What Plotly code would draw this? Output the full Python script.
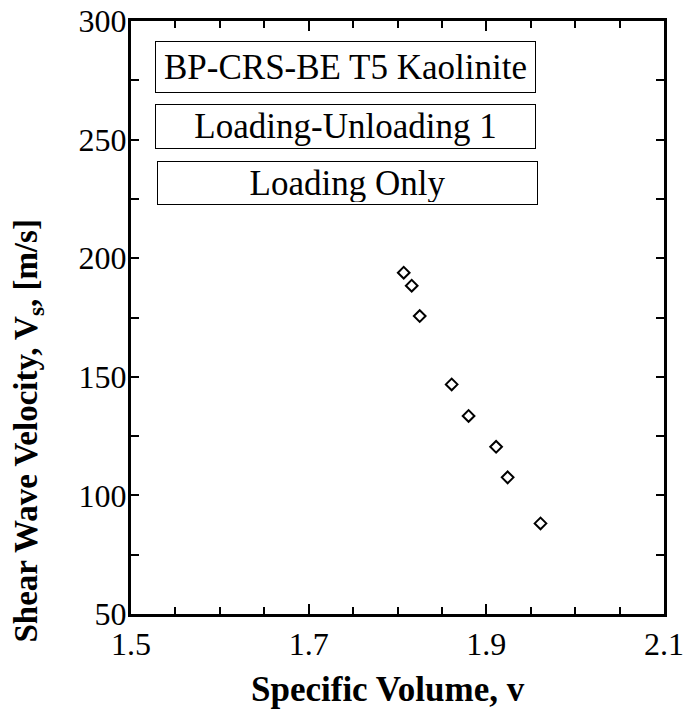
import plotly.graph_objects as go

specific_volume = [1.807, 1.816, 1.825, 1.861, 1.880, 1.911, 1.924, 1.961]
shear_velocity = [193.9, 188.4, 175.6, 146.8, 133.5, 120.5, 107.6, 88.2]
box_labels = ["BP-CRS-BE T5 Kaolinite", "Loading-Unloading 1", "Loading Only"]
x_ticks = [1.5, 1.7, 1.9, 2.1]
y_ticks = [50, 100, 150, 200, 250, 300]
x_title = "<b>Specific Volume, v</b>"
y_title = "<b>Shear Wave Velocity, V<sub>s</sub>, [m/s]</b>"

FONT = "Liberation Serif, Times New Roman, serif"

fig = go.Figure()
fig.add_trace(go.Scatter(
    x=specific_volume, y=shear_velocity, mode="markers",
    marker=dict(symbol="diamond-open", size=9, color="black", line=dict(width=2, color="black")),
    showlegend=False,
))

axis_common = dict(
    showline=True, linewidth=3, linecolor="black", mirror="ticks",
    ticks="inside", tickwidth=2, tickcolor="black", showgrid=False, zeroline=False,
    tickfont=dict(family=FONT, size=32, color="black"), automargin=False,
    ticklabeloverflow="allow",
)

fig.update_xaxes(
    range=[1.5, 2.1], tickvals=x_ticks, ticktext=[f"{v:.1f}" for v in x_ticks], ticklen=10,
    minor=dict(dtick=0.05, ticks="inside", ticklen=7, tickwidth=2, tickcolor="black", showgrid=False),
    **axis_common,
)
fig.update_yaxes(
    range=[50, 300], tickvals=y_ticks, ticktext=[str(v) for v in y_ticks], ticklen=8,
    ticklabelstandoff=-5,
    minor=dict(dtick=25, ticks="inside", ticklen=8, tickwidth=2, tickcolor="black", showgrid=False),
    **axis_common,
)

# axis titles
fig.add_annotation(
    x=0.482, y=-0.128, xref="paper", yref="paper", text=x_title, showarrow=False,
    font=dict(family=FONT, size=35, color="black"), xanchor="center", yanchor="middle",
)
fig.add_annotation(
    x=-0.193, y=0.308, xref="paper", yref="paper", text=y_title, showarrow=False,
    textangle=-90, font=dict(family=FONT, size=33, color="black"),
    xanchor="center", yanchor="middle",
)

box_pos = [(0.403, 0.922, 46), (0.402, 0.822, 39), (0.406, 0.727, 38)]
for label, (bx, by, h) in zip(box_labels, box_pos):
    fig.add_annotation(
        x=bx, y=by, xref="paper", yref="paper", text=label, showarrow=False,
        font=dict(family=FONT, size=35, color="black"),
        bordercolor="black", borderwidth=1, borderpad=2, bgcolor="white",
        width=375, height=h, align="center", valign="middle",
        xanchor="center", yanchor="middle",
    )

fig.update_layout(
    width=684, height=709,
    margin=dict(l=131, r=20, t=21, b=95, autoexpand=False),
    paper_bgcolor="white", plot_bgcolor="white",
    font=dict(family=FONT, color="black"),
)

# remove the default 8px page margin so the figure fills the window exactly
fig.write_html(
    "out.html",
    config={"displayModeBar": False},
    post_script="document.body.style.margin='0';",
)
